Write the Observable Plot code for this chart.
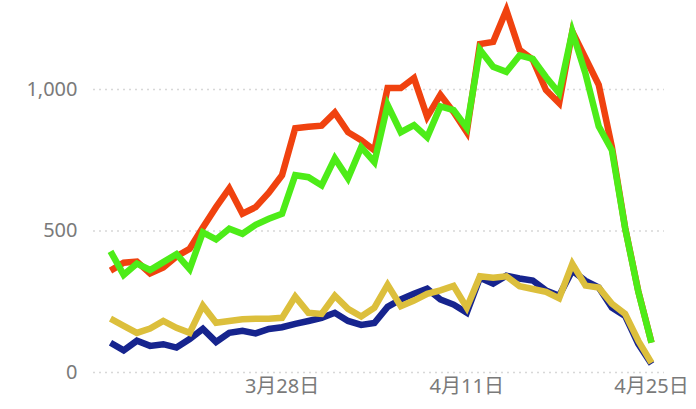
<!DOCTYPE html>
<html>
<head>
<meta charset="utf-8">
<script src="https://cdn.jsdelivr.net/npm/d3@7"></script>
<script src="https://cdn.jsdelivr.net/npm/@observablehq/plot@0.6"></script>
<style>
  html, body { margin: 0; padding: 0; background: #fff; }
</style>
</head>
<body>
<div id="chart"></div>
<script>
// Daily dates, 15 Mar – 25 Apr
const dates = [
  "2020-03-15","2020-03-16","2020-03-17","2020-03-18","2020-03-19","2020-03-20","2020-03-21",
  "2020-03-22","2020-03-23","2020-03-24","2020-03-25","2020-03-26","2020-03-27","2020-03-28",
  "2020-03-29","2020-03-30","2020-03-31","2020-04-01","2020-04-02","2020-04-03","2020-04-04",
  "2020-04-05","2020-04-06","2020-04-07","2020-04-08","2020-04-09","2020-04-10","2020-04-11",
  "2020-04-12","2020-04-13","2020-04-14","2020-04-15","2020-04-16","2020-04-17","2020-04-18",
  "2020-04-19","2020-04-20","2020-04-21","2020-04-22","2020-04-23","2020-04-24","2020-04-25"
];

const redValues = [
  360, 388, 392, 350, 371, 410, 437, 512, 584, 650, 561, 584, 635, 697,
  863, 868, 872, 918, 849, 821, 785, 1005, 1005, 1040, 903, 981, 920, 849,
  1160, 1168, 1280, 1140, 1105, 998, 952, 1204, 1110, 1016, 796, 512, 287, 106
];
const greenValues = [
  428, 345, 385, 362, 390, 418, 365, 495, 470, 508, 490, 522, 543, 561,
  697, 690, 661, 757, 686, 796, 743, 945, 849, 874, 831, 940, 927, 865,
  1140, 1080, 1062, 1120, 1108, 1044, 987, 1204, 1055, 870, 785, 510, 285, 105
];
const blueValues = [
  105, 78, 112, 94, 100, 88, 118, 154, 108, 140, 147, 138, 154, 160,
  172, 182, 193, 211, 182, 168, 175, 232, 258, 278, 296, 258, 240, 211,
  335, 314, 342, 332, 325, 290, 271, 360, 324, 300, 229, 200, 101, 30
];
const yellowValues = [
  190, 165, 140, 155, 182, 158, 140, 236, 176, 182, 188, 190, 190, 193,
  268, 211, 207, 271, 225, 198, 229, 310, 234, 254, 278, 290, 306, 229,
  340, 335, 340, 305, 295, 285, 262, 384, 307, 300, 243, 207, 112, 34
];

const seriesNames = ["blue", "yellow", "red", "green"];
const seriesColors = ["#16248e", "#dcbf3c", "#f0420f", "#4dec18"];
const seriesValues = [blueValues, yellowValues, redValues, greenValues];

const xTickDates = ["2020-03-28", "2020-04-11", "2020-04-25"];
const xTickLabels = ["3月28日", "4月11日", "4月25日"];
const yTicks = [0, 500, 1000];

const parse = s => new Date(s + "T00:00:00Z");
const xTicks = xTickDates.map(parse);

const rows = [];
seriesNames.forEach((name, k) => {
  seriesValues[k].forEach((v, i) => rows.push({series: name, date: parse(dates[i]), value: v}));
});

const lineMarks = seriesNames.map((name, k) =>
  Plot.line(rows.filter(r => r.series === name), {
    x: "date", y: "value",
    stroke: seriesColors[k],
    strokeWidth: 6.5,
    strokeLinejoin: "miter",
    strokeMiterlimit: 4,
    strokeLinecap: "butt"
  })
);

const chart = Plot.plot({
  width: 696,
  height: 409,
  marginLeft: 93,
  marginRight: 32,
  marginTop: 4,
  marginBottom: 37,
  style: {
    fontFamily: "'Noto Sans', 'Noto Sans CJK JP', sans-serif",
    fontSize: "20px",
    color: "#7a7a7a",
    background: "#fff"
  },
  x: {
    type: "utc",
    domain: [parse(dates[0]), parse(dates[dates.length - 1])],
    insetLeft: 17,
    insetRight: 13
  },
  y: {
    domain: [0, 1300]
  },
  marks: [
    Plot.gridY(yTicks, {stroke: "#d8d8d8", strokeOpacity: 1, strokeDasharray: "2,4", strokeWidth: 1.5}),
    Plot.axisY(yTicks, {
      tickSize: 0, tickPadding: 16, label: null,
      tickFormat: d3.format(","), fill: "#7a7a7a"
    }),
    Plot.axisX(xTicks, {
      tickSize: 0, tickPadding: 6, label: null,
      tickFormat: d => xTickLabels[xTicks.findIndex(t => +t === +d)],
      fill: "#7a7a7a"
    }),
    ...lineMarks
  ]
});

document.getElementById("chart").appendChild(chart);
</script>
</body>
</html>
